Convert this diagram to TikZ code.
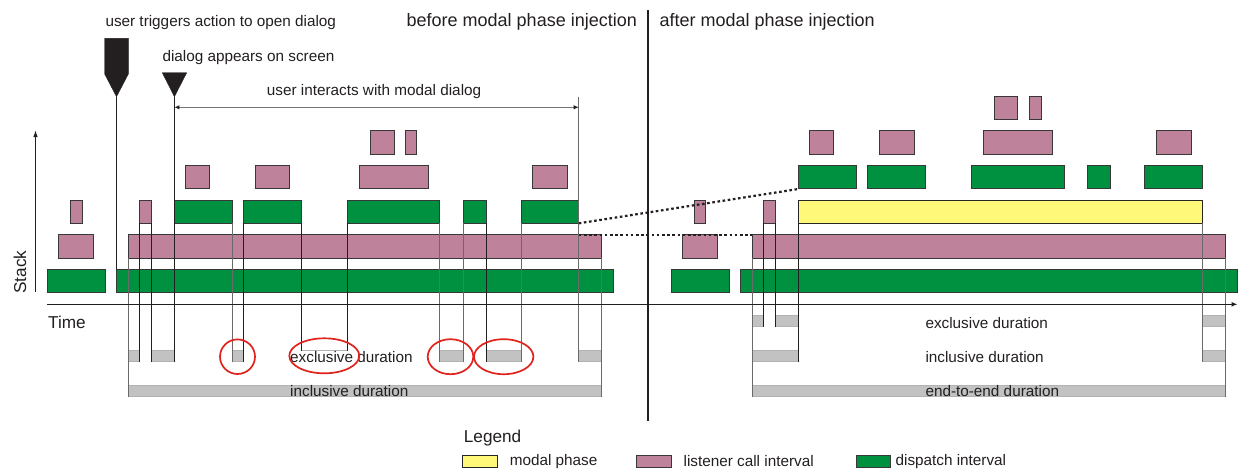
\documentclass[tikz,border=0pt]{standalone}
\usepackage{fontspec}
\setmainfont{Liberation Sans}
\usetikzlibrary{arrows.meta}

\definecolor{inkc}{HTML}{231F20}
\definecolor{lisc}{HTML}{BE829B}
\definecolor{dspc}{HTML}{009140}
\definecolor{modc}{HTML}{FFF878}
\definecolor{durc}{HTML}{C2C2C2}
\definecolor{durl}{HTML}{B2B2B2}
\definecolor{ringc}{HTML}{E0231D}
\definecolor{guideg}{HTML}{6A6A6A}

\newcommand\fsmall{\fontsize{15.3}{18}\selectfont}
\newcommand\fmid{\fontsize{17.2}{20}\selectfont}
\newcommand\fbig{\fontsize{18}{21}\selectfont}

% one interval box on stack level #3 (1 = bottom), from x=#1 to x=#2
\newcommand\ivl[4]{\filldraw[#4] (#1,{269.3-34.6*(#3-1)}) rectangle (#2,{292.7-34.6*(#3-1)});}
% one duration bar between y=#2 and y=#4
\newcommand\durbar[4]{\filldraw[dur] (#1,#2) rectangle (#3,#4);}

\begin{document}
\begin{tikzpicture}[x=1pt,y=-1pt,
  lis/.style={fill=lisc,draw=black!78,line width=1},
  dsp/.style={fill=dspc,draw=black!78,line width=1},
  mod/.style={fill=modc,draw=black!85,line width=1},
  dur/.style={fill=durc,draw=durl,line width=0.6},
  guide/.style={draw=guideg,line width=1},
  guidek/.style={draw=inkc,line width=1},
  dotline/.style={draw=inkc,line width=2.2,dash pattern=on 2.6pt off 2.6pt},
  ring/.style={draw=ringc,line width=1.7},
  label/.style={inner sep=0pt,text=inkc,font=\fsmall,anchor=west},
  biglabel/.style={inner sep=0pt,text=inkc,font=\fbig,anchor=west},
  axis/.style={draw=inkc,line width=1.2}]
\useasboundingbox (0,0) rectangle (1238,472);

% ---------- before injection: stack of intervals ----------
\ivl{47}{105}{1}{dsp}
\ivl{116.5}{613.7}{1}{dsp}
\ivl{58.3}{93.3}{2}{lis}
\ivl{128}{601.7}{2}{lis}
\ivl{70.3}{82}{3}{lis}
\ivl{139.3}{151.3}{3}{lis}
\ivl{174.4}{232}{3}{dsp}
\ivl{243.7}{301.3}{3}{dsp}
\ivl{347.7}{439.7}{3}{dsp}
\ivl{463.3}{486}{3}{dsp}
\ivl{521}{578.7}{3}{dsp}
\ivl{185.7}{209}{4}{lis}
\ivl{255}{289.7}{4}{lis}
\ivl{359}{428.3}{4}{lis}
\ivl{532.3}{567.7}{4}{lis}
\ivl{370.7}{394}{5}{lis}
\ivl{405.3}{416.7}{5}{lis}

% ---------- after injection: stack of intervals ----------
\ivl{671}{729}{1}{dsp}
\ivl{740.3}{1237}{1}{dsp}
\ivl{682.7}{717.3}{2}{lis}
\ivl{752}{1225.7}{2}{lis}
\ivl{694.3}{705.7}{3}{lis}
\ivl{763.3}{775.3}{3}{lis}
\ivl{798.3}{1202.3}{3}{mod}
\ivl{798.3}{856.3}{4}{dsp}
\ivl{867.3}{925.7}{4}{dsp}
\ivl{971.3}{1064.3}{4}{dsp}
\ivl{1087}{1110.3}{4}{dsp}
\ivl{1144.7}{1202.3}{4}{dsp}
\ivl{809.7}{833}{5}{lis}
\ivl{879}{914}{5}{lis}
\ivl{983}{1052.3}{5}{lis}
\ivl{1156.3}{1191.3}{5}{lis}
\ivl{994.3}{1017.7}{6}{lis}
\ivl{1029.3}{1041}{6}{lis}

% ---------- duration bars ----------
\durbar{128}{350}{139.3}{361.7}
\durbar{151.3}{350}{174.4}{361.7}
\durbar{232}{350}{243.7}{361.7}
\durbar{301.3}{350}{347.7}{361.7}
\durbar{439.7}{350}{463.3}{361.7}
\durbar{486}{350}{521}{361.7}
\durbar{578.7}{350}{601.7}{361.7}
\durbar{128}{385}{601.7}{396.7}

\durbar{752}{315.7}{763.3}{326.7}
\durbar{775.3}{315.7}{798.3}{326.7}
\durbar{1202.3}{315.7}{1225.7}{326.7}
\durbar{752}{350.3}{798.3}{361.7}
\durbar{1202.3}{350.3}{1225.7}{361.7}
\durbar{752}{385}{1225.7}{396.7}

% ---------- guide lines from interval edges ----------
\draw[guidek] (116.5,96.7) -- (116.5,269.3);
\draw[guide]  (128,258.3) -- (128,396.7);
\draw[guidek] (139.3,223.3) -- (139.3,361.7);
\draw[guidek] (151.3,223.3) -- (151.3,361.7);
\draw[guidek] (174.4,96.7) -- (174.4,361.7);
\draw[guide]  (232,223.3) -- (232,361.7);
\draw[guidek] (243.7,223.3) -- (243.7,361.7);
\draw[guidek] (301.3,223.3) -- (301.3,361.7);
\draw[guidek] (347.7,223.3) -- (347.7,361.7);
\draw[guide]  (439.7,223.3) -- (439.7,361.7);
\draw[guide]  (463.3,223.3) -- (463.3,361.7);
\draw[guidek] (486,223.3) -- (486,361.7);
\draw[guide]  (521,223.3) -- (521,361.7);
\draw[guide]  (578.7,96.7) -- (578.7,361.7);
\draw[guide]  (601.7,258.3) -- (601.7,396.7);

\draw[guide]  (752,258.3) -- (752,396.7);
\draw[guidek] (763.3,223.3) -- (763.3,326.7);
\draw[guidek] (775.3,223.3) -- (775.3,326.7);
\draw[guidek] (798.3,223.3) -- (798.3,361.7);
\draw[guide]  (1202.3,223.3) -- (1202.3,361.7);
\draw[guide]  (1225.7,258.3) -- (1225.7,396.7);

% ---------- where the intervals moved to ----------
\coordinate (dispEnd) at (578.7,223.3);
\coordinate (dispNew) at (798.3,189);
\coordinate (lisEnd) at (578.7,234.7);
\coordinate (lisNew) at (752,234.7);
\draw[dotline] (dispEnd) -- (dispNew);
\draw[dotline] (lisEnd) -- (lisNew);

% ---------- axes ----------
\coordinate (stackFoot) at (35.5,292.3);
\coordinate (stackTip) at (35.5,130);
\draw[axis,-{Latex[length=7,width=4.5]}] (stackFoot) -- (stackTip);
\coordinate (timeFoot) at (47,304.3);
\coordinate (timeTip) at (1237.5,304.3);
\draw[axis,-{Latex[length=6,width=5]}] (timeFoot) -- (timeTip);
\node[inner sep=0pt,text=inkc,font=\fmid,rotate=90] (stack) at (20,272) {Stack};
\node[inner sep=0pt,text=inkc,font=\fmid,anchor=west] (time) at (48,322.3) {Time};

% ---------- divider ----------
\coordinate (divTop) at (648.3,10);
\coordinate (divBot) at (648.3,421);
\draw[draw=inkc,line width=2.2] (divTop) -- (divBot);

% ---------- event markers ----------
\filldraw[fill=inkc,draw=inkc] (104.7,38.3) -- (128.3,38.3) -- (128.3,74) -- (116.5,96.7) -- (104.7,74) -- cycle;
\filldraw[fill=inkc,draw=inkc] (162.3,72.7) -- (186.7,72.7) -- (174.4,96.7) -- cycle;

% ---------- interaction span ----------
\coordinate (spanL) at (174.4,107.3);
\coordinate (spanR) at (578.7,107.3);
\draw[draw=gray!90!black,line width=1.5,{Latex[length=5,width=4.5,color=inkc]}-{Latex[length=5,width=4.5,color=inkc]}] (spanL) -- (spanR);

% ---------- labels ----------
\node[label] (trig) at (105.3,22.8) {user triggers action to open dialog};
\node[label] (appear) at (162.3,57.6) {dialog appears on screen};
\node[label] (interact) at (266.7,92) {user interacts with modal dialog};
\node[biglabel] (before) at (406.5,22.3) {before modal phase injection};
\node[biglabel] (after) at (659.4,22.3) {after modal phase injection};

\node[label,fill=white,inner ysep=0.8pt] (exclL) at (290,357) {exclusive duration};
\node[label] (inclL) at (290,391) {inclusive duration};
\node[label] (exclR) at (925.3,323.3) {exclusive duration};
\node[label] (inclR) at (925.3,356.7) {inclusive duration};
\node[label] (e2eR) at (925.3,390.7) {end-to-end duration};

% ---------- highlighted gaps ----------
\draw[ring] (237.5,356.7) ellipse [x radius=17.5, y radius=17.3];
\draw[ring] (324.3,355.8) ellipse [x radius=35, y radius=17.5];
\draw[ring] (450.5,356.7) ellipse [x radius=22.8, y radius=17.5];
\draw[ring] (503.7,356.7) ellipse [x radius=29.7, y radius=17.5];

% ---------- legend ----------
\node[inner sep=0pt,text=inkc,font=\fmid,anchor=west] (legend) at (463.7,438) {Legend};
\filldraw[mod] (462,455.5) rectangle (497.5,467.5);
\node[label] (lgMod) at (509.6,461.5) {modal phase};
\filldraw[lis] (636.3,455.5) rectangle (671.5,467.5);
\node[label] (lgLis) at (683.4,461.5) {listener call interval};
\filldraw[dsp] (856,455.5) rectangle (890.8,467.5);
\node[label] (lgDsp) at (895.4,461.5) {dispatch interval};
\end{tikzpicture}
\end{document}
